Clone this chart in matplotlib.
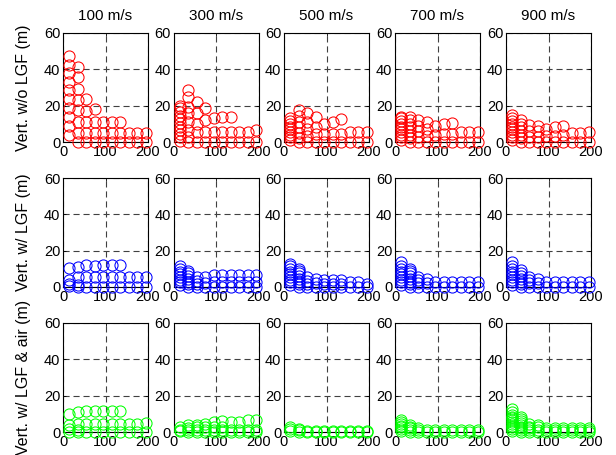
import matplotlib
matplotlib.use("Agg")
import matplotlib.pyplot as plt

plt.rcParams['font.family'] = ['Liberation Sans', 'DejaVu Sans']

# Distance positions (m) shared by every panel
x_pos = [15, 35, 55, 75, 95, 115, 135, 155, 175, 195]
speeds = ["100 m/s", "300 m/s", "500 m/s", "700 m/s", "900 m/s"]
row_labels = ["Vert. w/o LGF (m)", "Vert. w/ LGF (m)", "Vert. w/ LGF & air (m)"]
row_colors = ["#ff0000", "#0000ff", "#00ff00"]

# Vertical error without LGF, one list of values per distance
wo_lgf_100 = [[3.7, 8.9, 13.8, 18.8, 23.6, 28.6, 33.2, 37.8, 42.4, 47.4],
              [0, 5, 11, 17.5, 23, 29, 35.6, 41.5],
              [0, 5, 11, 17, 23.6], [0, 5, 11, 18], [0, 5, 11], [0, 5, 11],
              [0, 5, 11], [0, 5], [0, 5], [0, 5]]
wo_lgf_300 = [[0.5, 2.5, 4.5, 6.5, 8.5, 10.5, 12.5, 14.5, 16.5, 18.5, 20],
              [0, 2.8, 6.5, 11, 15.7, 19.4, 25, 28.6],
              [0, 5.5, 10, 15.7, 22], [0, 5.5, 12, 18.5], [0, 5.5, 13],
              [0, 5.5, 14], [0, 5.5, 13.5], [0, 5.5], [0, 5.5], [0, 6.5]]
wo_lgf_500 = [[1, 2.5, 4, 5.5, 7, 8.5, 10, 11.5, 13],
              [0, 2, 5, 8, 11, 14.5, 17.5],
              [0, 3.5, 7, 11, 15.7], [0, 4.5, 8, 14], [0, 4.6, 10],
              [0, 4.6, 11], [0, 4.6, 12.4], [0, 5.5], [0, 5.5], [0, 5.5]]
wo_lgf_700 = [[1, 2.5, 4, 5.5, 7, 8.5, 10, 11.5, 13, 14],
              [0, 2, 4, 6, 8, 10, 12, 14],
              [0, 3, 6, 9, 12], [0, 3.5, 7, 11], [0, 4, 9],
              [0, 4.5, 10], [0, 4.5, 10.5], [0, 5.5], [0, 5.5], [0, 5.5]]
wo_lgf_900 = [[1, 2.5, 4, 5.5, 7, 8.5, 10, 11.5, 13, 14.8],
              [0, 2, 4, 6, 8, 10, 12],
              [0, 3, 6, 9.2], [0, 3, 6, 8.7], [0, 3.5, 7.4],
              [0, 3.5, 8.3], [0, 4, 8.7], [0, 5], [0, 5], [0, 5.5]]

# Vertical error with LGF
w_lgf_100 = [[0.5, 1.8, 4, 10.4], [0, 1, 5.5, 11], [0, 5.5, 12], [0, 5.5, 11.5],
             [0, 5.5, 12], [0, 5.5, 12], [0, 5.5, 12], [0, 5.5], [0, 5.5], [0, 5.5]]
w_lgf_300 = [[1, 2.5, 4, 5.5, 7, 8.5, 10, 11.5],
             [0, 1.5, 3, 4.5, 6, 7.5, 9],
             [0, 1.5, 3.5, 5.5], [0, 2, 5.5], [0, 2.5, 6.4], [0, 2.5, 6.4],
             [0, 2.5, 6.4], [0, 2.5, 6.4], [0, 2.5, 6.7], [0, 2.5, 6.7]]
w_lgf_500 = [[1, 2.5, 4, 5.5, 7, 8.5, 10, 11.5, 12.7],
             [0, 1.5, 3, 4.5, 6, 7.5, 9, 10],
             [0, 1.5, 3.5, 5.5], [0, 2, 4.5], [0, 1.5, 3.6], [0, 1.5, 3.6],
             [0, 1.5, 3.6], [0, 2.7], [0, 2.7], [0, 1.8]]
w_lgf_700 = [[1, 2.5, 4, 5.5, 7, 8.5, 10, 11.5, 13.6],
             [0, 1.5, 3, 4.5, 6, 7.5, 9, 10],
             [0, 2, 4, 5.5], [0, 2, 4.5], [0, 2.7], [0, 2.7],
             [0, 2.7], [0, 2.7], [0, 2.7], [0, 2.7]]
w_lgf_900 = [[1, 2.5, 4, 5.5, 7, 8.5, 10, 11.5, 13.6],
             [0, 1.5, 3, 4.5, 6, 7.5, 9.6],
             [0, 2, 4, 5.5], [0, 2, 4.5], [0, 3], [0, 2.5],
             [0, 2.5], [0, 2.5], [0, 2.5], [0, 2.5]]

# Vertical error with LGF and air data
w_air_100 = [[0, 1.8, 3.6, 10], [0, 1, 4.5, 11], [0, 4.5, 11.3], [0, 4.5, 11.5],
             [0, 4.5, 11.8], [0, 4.5, 11.8], [0, 4.5, 11.5], [0, 4.5], [0, 4.5], [0, 5]]
w_air_300 = [[0.5, 1, 2.7], [0, 1, 2, 3.6], [0, 1, 2.5, 4], [0, 1, 3, 4.5],
             [0, 1, 3, 5.5], [0, 1, 3, 5.8], [0, 1, 5.5], [0, 1, 5.5],
             [0, 1, 6.4], [0, 1, 6.4]]
w_air_500 = [[0.5, 1.5, 2.7], [0, 1, 1.8], [0, 0.8], [0, 0.8], [0, 0.8],
             [0, 0.8], [0, 0.8], [0, 0.8], [0, 0.8], [0, 0.8]]
w_air_700 = [[0.5, 1.5, 2.5, 3.5, 4.5, 5.5, 6.4], [0, 1, 2, 3, 4], [0, 1, 2.2],
             [0, 1], [0, 1], [0, 1], [0, 1], [0, 1], [0, 1], [0, 1]]
w_air_900 = [[0.5, 1.5, 2.5, 3.5, 4.5, 5.5, 6.5, 7.5, 8.5, 9.5, 11, 12.7],
             [0, 1, 2, 3, 4, 5, 6, 7, 8.2], [0, 1, 2, 3, 4.5], [0, 1, 2.5, 3.6],
             [0, 1, 2.2], [0, 1, 2], [0, 1, 2], [0, 1, 2], [0, 1, 2], [0, 1, 2]]

panels = [
    [wo_lgf_100, wo_lgf_300, wo_lgf_500, wo_lgf_700, wo_lgf_900],
    [w_lgf_100, w_lgf_300, w_lgf_500, w_lgf_700, w_lgf_900],
    [w_air_100, w_air_300, w_air_500, w_air_700, w_air_900],
]

W, H = 616, 455
fig = plt.figure(figsize=(W / 100, H / 100), dpi=100)

col_left = [63, 173.5, 284, 395, 506]
row_top = [33, 178, 323]
ax_w, ax_h = 85, 109

for r in range(3):
    for c in range(5):
        ax = fig.add_axes([col_left[c] / W, 1 - (row_top[r] + ax_h) / H, ax_w / W, ax_h / H])
        data = panels[r][c]
        for x, ys in zip(x_pos, data):
            ax.plot([x] * len(ys), ys, 'o', mfc='none', mec=row_colors[r],
                    ms=8, mew=0.75, clip_on=False, zorder=3)
        ax.set_xlim(0, 200)
        ax.set_ylim(0, 60)
        ax.set_xticks([0, 100, 200])
        ax.set_yticks([0, 20, 40, 60])
        ax.grid(True, color='0.25', linestyle=(0, (5.5, 3.5)), linewidth=0.8)
        ax.set_axisbelow(True)
        ax.tick_params(direction='in', length=2, width=0.6, labelsize=10.5,
                       pad=2, top=True, right=True, colors='black')
        for s in ax.spines.values():
            s.set_linewidth(0.8)
            s.set_color('black')
        if r == 0:
            ax.set_title(speeds[c], fontsize=11, pad=9)
        if c == 0:
            ax.set_ylabel(row_labels[r], fontsize=11.5, labelpad=9)

fig.savefig("out.png", dpi=100)
